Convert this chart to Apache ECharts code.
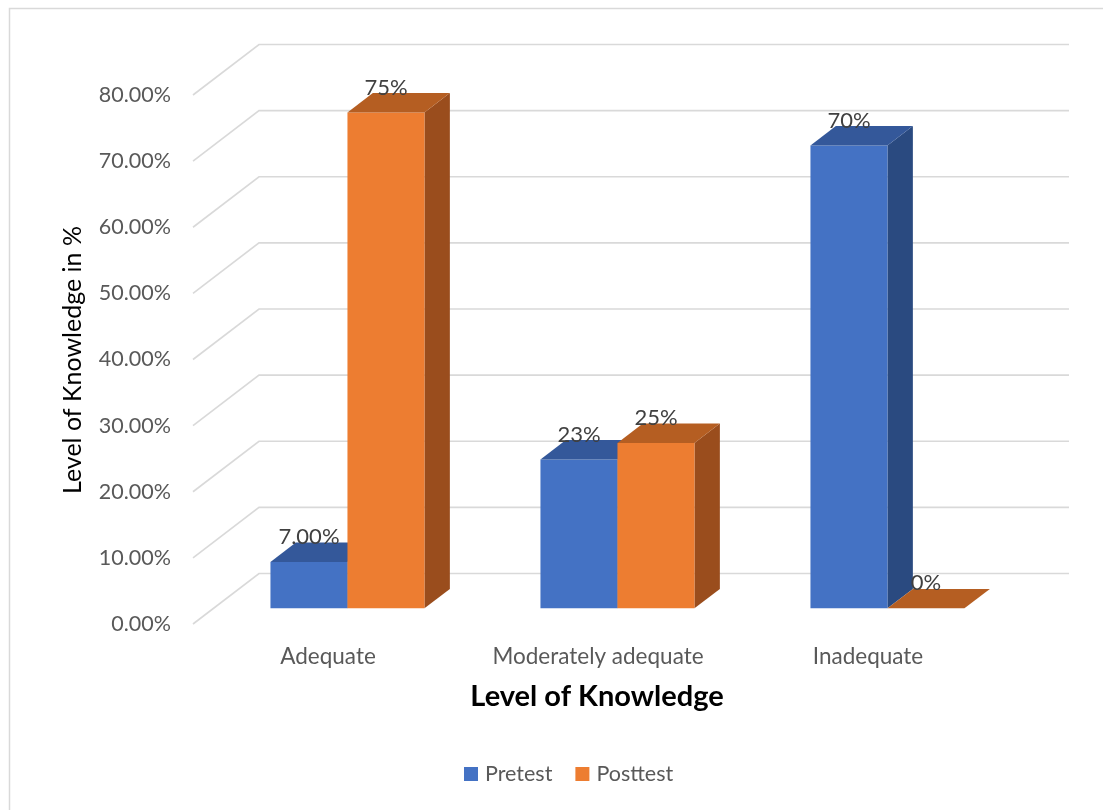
<!DOCTYPE html>
<html>
<head>
<meta charset="utf-8">
<script src="https://cdn.jsdelivr.net/npm/echarts@6/dist/echarts.min.js"></script>
<style>
html,body{margin:0;padding:0;background:#fff;}
#chart{width:1103px;height:810px;}
</style>
</head>
<body>
<div id="chart"></div>
<script>
const categories = ['Adequate', 'Moderately adequate', 'Inadequate'];
const seriesNames = ['Pretest', 'Posttest'];
const pretest = [7, 22.5, 70];
const posttest = [75, 25, 0];
const pretestLabels = ['7.00%', '23%', '70%'];
const posttestLabels = ['75%', '25%', '0%'];
const yTicks = [0, 10, 20, 30, 40, 50, 60, 70, 80];

const FONT = 'Lato, "Open Sans", sans-serif';
const DEPTH = [66, -50.5];       // floor depth (front plane -> back wall)
const BAR_FRONT = 0.31;          // bar front position as fraction of depth
const BAR_BACK = 0.695;          // bar back position
const BAR_FRAC = 77 / 270;       // single bar width / band width

const faceColors = [
  {front: '#4472C4', top: '#34589A', side: '#2A4A80'},
  {front: '#ED7D31', top: '#B55E22', side: '#9A4D1D'}
];

function barRender(s) {
  return function (params, api) {
    const ci = api.value(0), v = api.value(1);
    const base = api.coord([ci, 0]);
    const top = api.coord([ci, v]);
    const bw = api.size([1, 0])[0] * BAR_FRAC;
    const fx = base[0] + DEPTH[0] * BAR_FRONT + (s === 0 ? -bw : 0) - 1;
    const fyb = base[1] + DEPTH[1] * BAR_FRONT;
    const fyt = top[1] + DEPTH[1] * BAR_FRONT;
    const bdx = DEPTH[0] * (BAR_BACK - BAR_FRONT);
    const bdy = DEPTH[1] * (BAR_BACK - BAR_FRONT);
    const c = faceColors[s];
    const children = [];
    if (fyb - fyt > 0.5) {
      children.push({type: 'polygon', shape: {points: [[fx + bw, fyt], [fx + bw + bdx, fyt + bdy], [fx + bw + bdx, fyb + bdy], [fx + bw, fyb]]}, style: {fill: c.side}});
      children.push({type: 'rect', shape: {x: fx, y: fyt, width: bw, height: fyb - fyt}, style: {fill: c.front}});
    }
    children.push({type: 'polygon', shape: {points: [[fx, fyt], [fx + bdx, fyt + bdy], [fx + bw + bdx, fyt + bdy], [fx + bw, fyt]]}, style: {fill: c.top}});
    return {type: 'group', children: children};
  };
}

function labelRender(labels, s) {
  return function (params, api) {
    const ci = api.value(0), v = api.value(1);
    const base = api.coord([ci, 0]);
    const top = api.coord([ci, v]);
    const bw = api.size([1, 0])[0] * BAR_FRAC;
    const fx = base[0] + DEPTH[0] * BAR_FRONT + (s === 0 ? -bw : 0) - 1;
    const fyt = top[1] + DEPTH[1] * BAR_FRONT;
    return {type: 'text', style: {x: fx + bw / 2, y: fyt - 25, text: labels[params.dataIndex], align: 'center', verticalAlign: 'middle', fill: '#404040', font: '22px ' + FONT}};
  };
}

const chart = echarts.init(document.getElementById('chart'));
chart.setOption({
  backgroundColor: '#fff',
  animation: false,
  color: ['#4472C4', '#ED7D31'],
  grid: {left: 193, right: 100, top: 95, bottom: 186},
  xAxis: {
    type: 'category', data: categories,
    axisLine: {show: false}, axisTick: {show: false}, splitLine: {show: false},
    axisLabel: {interval: 0, hideOverlap: false, margin: 21, fontSize: 22.5, fontFamily: FONT, color: '#595959'}
  },
  yAxis: {
    type: 'value', min: 0, max: 80, interval: 10,
    axisLine: {show: false}, axisTick: {show: false}, splitLine: {show: false},
    axisLabel: {margin: 22, fontSize: 21.5, fontFamily: FONT, color: '#595959', formatter: v => v.toFixed(2) + '%'}
  },
  legend: {
    bottom: 20, left: 459, icon: 'rect', itemWidth: 14, itemHeight: 14, itemGap: 23,
    textStyle: {fontSize: 21.5, fontFamily: FONT, color: '#595959', padding: [0, 0, 0, 2]},
    data: seriesNames
  },
  graphic: [
    {type: 'rect', shape: {x: 9.5, y: 8.5, width: 1200, height: 900}, style: {fill: 'none', stroke: '#D9D9D9', lineWidth: 1.5}, silent: true},
    {type: 'text', x: 73, y: 360, rotation: Math.PI / 2, style: {text: 'Level of Knowledge in %', align: 'center', verticalAlign: 'middle', fill: '#000', font: '25px ' + FONT}},
    {type: 'text', x: 597, y: 697, style: {text: 'Level of Knowledge', align: 'center', verticalAlign: 'middle', fill: '#000', font: 'bold 29px ' + FONT}}
  ],
  series: [
    {
      type: 'custom', name: 'grid', silent: true,
      data: yTicks.map(v => [0, v]),
      renderItem: function (params, api) {
        const y = api.coord([0, api.value(1)])[1];
        const x0 = params.coordSys.x, w = params.coordSys.width;
        return {type: 'polyline', shape: {points: [[x0, y], [x0 + DEPTH[0], y + DEPTH[1]], [x0 + DEPTH[0] + w, y + DEPTH[1]]]}, style: {stroke: '#D9D9D9', lineWidth: 1.6, fill: null}};
      }
    },
    {type: 'custom', name: 'Pretest', itemStyle: {color: '#4472C4'}, data: pretest.map((v, i) => [i, v]), renderItem: barRender(0)},
    {type: 'custom', name: 'Posttest', itemStyle: {color: '#ED7D31'}, data: posttest.map((v, i) => [i, v]), renderItem: barRender(1)},
    {type: 'custom', name: 'pl', silent: true, z: 5, data: pretest.map((v, i) => [i, v]), renderItem: labelRender(pretestLabels, 0)},
    {type: 'custom', name: 'ql', silent: true, z: 5, data: posttest.map((v, i) => [i, v]), renderItem: labelRender(posttestLabels, 1)}
  ]
});
</script>
</body>
</html>
